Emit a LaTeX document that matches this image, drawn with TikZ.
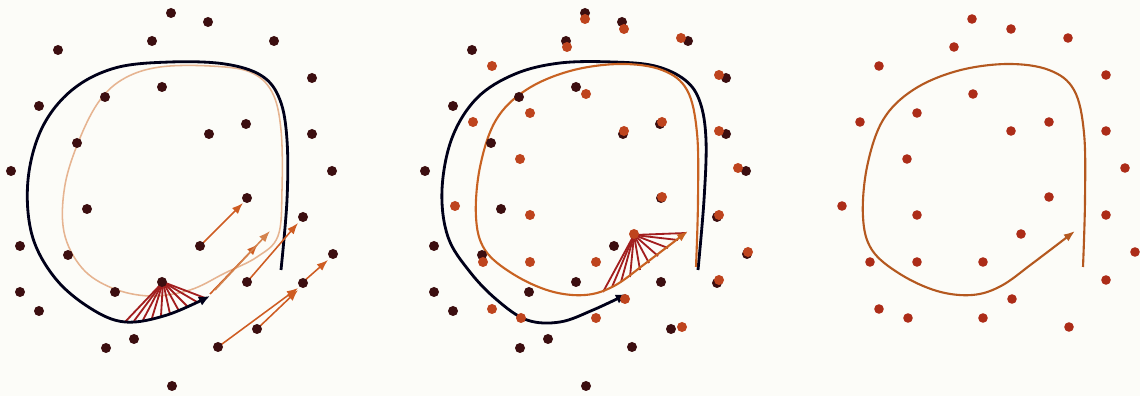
\documentclass[tikz,border=0pt]{standalone}
\usepackage{tikz}
\usetikzlibrary{arrows.meta}

\definecolor{paper}{RGB}{252,252,248}
\definecolor{dotdark}{RGB}{60,14,16}
\definecolor{dotred}{RGB}{190,68,30}
\definecolor{dotred3}{RGB}{172,44,24}
\definecolor{curvered}{RGB}{200,98,34}
\definecolor{curvetan}{RGB}{230,180,145}
\definecolor{fanred}{RGB}{162,30,30}
\definecolor{shiftred}{RGB}{206,92,34}

\newcommand{\darkpts}{171/13, 208/22, 152/41, 274/41, 58/50, 312/78, 162/87, 105/97, 39/106, 246/124, 209/134, 312/134, 77/143, 11/171, 332/171, 247/198, 87/209, 303/217, 200/246, 20/246, 68/255, 333/254, 162/282, 247/282, 303/283, 20/292, 115/292, 39/311, 257/329, 134/339, 106/348, 218/347, 172/386}
\newcommand{\redpts}{972/19, 1011/29, 954/47, 1068/38, 879/66, 1106/75, 973/94, 917/113, 860/122, 1049/122, 1011/131, 1106/131, 907/159, 1125/168, 842/206, 1049/197, 917/215, 1106/215, 1021/234, 1135/252, 870/262, 917/262, 983/262, 1106/280, 1012/299, 879/309, 908/318, 983/318, 1069/327}
\newcommand{\redloop}[1]{\draw[#1, -{Latex[length=8pt,width=6pt]}] plot[smooth, tension=0.6] coordinates {(696,267) (698,200) (697,133) (687,90) (662,70) (620,64) (570,71) (526,90) (496,120) (480,167) (476,217) (485,250) (513,274) (550,291) (585,295) (614,286) (646,263) (688,231)};}

\begin{document}
\begin{tikzpicture}[x=0.25mm, y=-0.25mm,
	blackpath/.style={line width=2pt, black!90!blue},
	tanpath/.style={line width=1.1pt, curvetan},
	redpath/.style={line width=1.5pt, curvered},
	fanline/.style={line width=1.3pt, fanred},
	shiftarrow/.style={line width=1.1pt, shiftred, -{Latex[length=8pt,width=6pt]}}]
	\useasboundingbox (0,0) rectangle (1140,396);
	\fill[paper] (0,0) rectangle (1140,396);

	\draw[tanpath] plot[smooth cycle, tension=0.6] coordinates {(190,290) (225,273) (257,257) (278,236) (282,190) (281,130) (272,92) (250,72) (210,66) (160,67) (125,78) (100,100) (80,138) (65,185) (64,232) (82,268) (112,288) (150,296)};
	\foreach \x/\y in {125/322, 134/321, 143/320, 152/318, 161/316, 170/314, 179/311, 188/307, 197/302, 205/298}
		\draw[fanline] (163,282) -- (\x,\y);
	\draw[blackpath, -{Latex[length=8pt,width=7pt]}] plot[smooth, tension=0.6] coordinates {(281,270) (287,200) (287,140) (280,100) (262,76) (225,64) (170,62) (115,68) (72,90) (42,128) (28,180) (32,235) (55,278) (90,308) (125,322) (167,315) (210,296)};
	\draw[shiftarrow] (200,246) -- (243,203);
	\draw[shiftarrow] (210,294) -- (258,244);
	\draw[shiftarrow, curvered!60!curvetan] (215,290) -- (270,231);
	\draw[shiftarrow] (247,282) -- (298,223);
	\draw[shiftarrow] (218,347) -- (298,288);
	\draw[shiftarrow] (257,329) -- (298,290);
	\draw[shiftarrow] (303,282) -- (328,260);
	\foreach \x/\y in \darkpts
		\fill[dotdark] (\x,\y) circle (1.25mm);

	\draw[blackpath, -{Latex[length=8pt,width=7pt]}] plot[smooth, tension=0.6] coordinates {(698,270) (704,200) (706,140) (700,102) (685,80) (655,66) (613,62) (560,63) (515,74) (477,98) (452,138) (442,190) (448,237) (470,272) (497,300) (527,320) (560,322) (593,310) (627,294)};
	\foreach \x/\y in {603/292, 612/287, 621/282, 630/277, 640/270, 649/263, 658/256, 668/248, 678/240, 686/233}
		\draw[fanline] (634,235) -- (\x,\y);
	\redloop{redpath}
	\begin{scope}[shift={(414,0)}]
		\foreach \x/\y in \darkpts
			\fill[dotdark] (\x,\y) circle (1.25mm);
	\end{scope}
	\begin{scope}[shift={(-387,0)}]
		\foreach \x/\y in \redpts
			\fill[dotred] (\x,\y) circle (1.25mm);
	\end{scope}

	\begin{scope}[shift={(387,0)}]
		\redloop{redpath, curvered!90!black}
	\end{scope}
	\foreach \x/\y in \redpts
		\fill[dotred3] (\x,\y) circle (1.2mm);
\end{tikzpicture}
\end{document}
